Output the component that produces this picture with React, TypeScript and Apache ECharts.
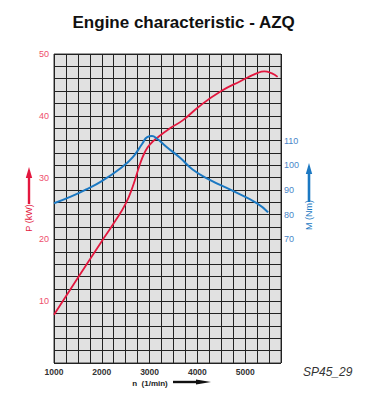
import React, { useEffect, useRef } from "react";
import * as echarts from "echarts";

// Engine speed (1/min) with power P (kW) and torque M (Nm)
const powerRpm = [1000, 1500, 2000, 2250, 2500, 2650, 2800, 2900, 3000, 3200, 3450, 3700, 4050, 4500, 4900, 5250, 5400, 5550, 5680];
const powerKw = [7.8, 13.8, 19.7, 22.6, 25.8, 28.6, 32.2, 34.1, 35.3, 36.7, 38.1, 39.3, 41.6, 44.0, 45.6, 46.9, 47.2, 46.9, 46.3];

const torqueRpm = [1000, 1350, 1650, 2000, 2400, 2650, 2850, 2950, 3050, 3150, 3350, 3650, 3900, 4250, 4700, 5250, 5480];
const torqueNm = [84.6, 87.3, 90.0, 93.6, 98.9, 103.3, 108.8, 111.4, 111.8, 110.8, 107.5, 102.8, 98.3, 94.2, 90.0, 84.6, 80.9];

const xTicks = [1000, 2000, 3000, 4000, 5000];
const powerTicks = [10, 20, 30, 40, 50];
const torqueTicks = [70, 80, 90, 100, 110];

const RED = "#e3173e";
const BLUE = "#1b78c2";

export default function App() {
  const ref = useRef<HTMLDivElement>(null);

  useEffect(() => {
    if (!ref.current) return;
    const chart = echarts.init(ref.current, undefined, { renderer: "svg" });
    const font = "'Liberation Sans', Arial, sans-serif";

    chart.setOption({
      animation: false,
      textStyle: { fontFamily: font },
      grid: {
        left: 54,
        right: 87,
        top: 54,
        bottom: 37,
        show: true,
        backgroundColor: "#e1e1e1",
        borderColor: "#3a3a3a",
        borderWidth: 1,
      },
      xAxis: {
        type: "value",
        min: 1000,
        max: 5750,
        interval: 250,
        axisLine: { show: false },
        axisTick: { show: false },
        splitLine: { show: true, lineStyle: { color: "#222", width: 1 } },
        axisLabel: {
          margin: 4,
          fontSize: 8.5,
          fontWeight: "bold",
          color: "#333",
          formatter: (v: number) => (xTicks.includes(v) ? String(v) : ""),
        },
      },
      yAxis: [
        {
          type: "value",
          min: 0,
          max: 50,
          interval: 2,
          axisLine: { show: false },
          axisTick: { show: false },
          splitLine: { show: true, lineStyle: { color: "#222", width: 1 } },
          axisLabel: {
            margin: 5,
            fontSize: 9,
            color: "#ee4e6c",
            formatter: (v: number) => (powerTicks.includes(v) ? String(v) : ""),
          },
        },
        {
          type: "value",
          position: "right",
          min: 20,
          max: 145,
          interval: 5,
          axisLine: { show: false },
          axisTick: { show: false },
          splitLine: { show: false },
          axisLabel: {
            margin: 3,
            fontSize: 9,
            color: "#4a86c8",
            formatter: (v: number) => (torqueTicks.includes(v) ? String(v) : ""),
          },
        },
      ],
      series: [
        {
          name: "P",
          type: "line",
          yAxisIndex: 0,
          data: powerRpm.map((r, i) => [r, powerKw[i]]),
          smooth: 0.5,
          symbol: "none",
          lineStyle: { color: RED, width: 1.8 },
        },
        {
          name: "M",
          type: "line",
          yAxisIndex: 1,
          data: torqueRpm.map((r, i) => [r, torqueNm[i]]),
          smooth: 0.5,
          symbol: "none",
          lineStyle: { color: BLUE, width: 2 },
        },
      ],
      graphic: [
        {
          type: "text",
          left: "center",
          top: 14,
          style: {
            text: "Engine characteristic - AZQ",
            font: `bold 17px ${font}`,
            fill: "#111",
          },
        },
        // P (kW) axis name with upward arrow
        { type: "line", shape: { x1: 29, y1: 204, x2: 29, y2: 176 }, style: { stroke: RED, lineWidth: 2.4 } },
        { type: "polygon", shape: { points: [[29, 167], [25.8, 178], [32.2, 178]] }, style: { fill: RED } },
        {
          type: "text",
          x: 29,
          y: 218,
          rotation: Math.PI / 2,
          style: {
            text: "P (kW)",
            font: `9px ${font}`,
            fill: RED,
            align: "center",
            verticalAlign: "middle",
          },
        },
        // M (Nm) axis name with upward arrow
        { type: "line", shape: { x1: 309, y1: 202, x2: 309, y2: 172 }, style: { stroke: BLUE, lineWidth: 2.6 } },
        { type: "polygon", shape: { points: [[309, 163], [305.8, 174], [312.2, 174]] }, style: { fill: BLUE } },
        {
          type: "text",
          x: 309,
          y: 215,
          rotation: Math.PI / 2,
          style: {
            text: "M (Nm)",
            font: `9px ${font}`,
            fill: BLUE,
            align: "center",
            verticalAlign: "middle",
          },
        },
        // n (1/min) axis name with right arrow
        {
          type: "text",
          x: 150,
          y: 383,
          style: {
            text: "n  (1/min)",
            font: `bold 8px ${font}`,
            fill: "#222",
            align: "center",
            verticalAlign: "middle",
          },
        },
        { type: "line", shape: { x1: 173, y1: 382, x2: 200, y2: 382 }, style: { stroke: "#111", lineWidth: 2.4 } },
        { type: "polygon", shape: { points: [[211, 382], [196, 379.6], [196, 384.4]] }, style: { fill: "#111" } },
        {
          type: "text",
          x: 303,
          y: 372,
          style: {
            text: "SP45_29",
            font: `italic 12px ${font}`,
            fill: "#333",
            verticalAlign: "middle",
          },
        },
      ],
    });

    return () => chart.dispose();
  }, []);

  return (
    <div
      ref={ref}
      style={{ position: "absolute", left: 0, top: 0, width: 368, height: 400 }}
    />
  );
}
